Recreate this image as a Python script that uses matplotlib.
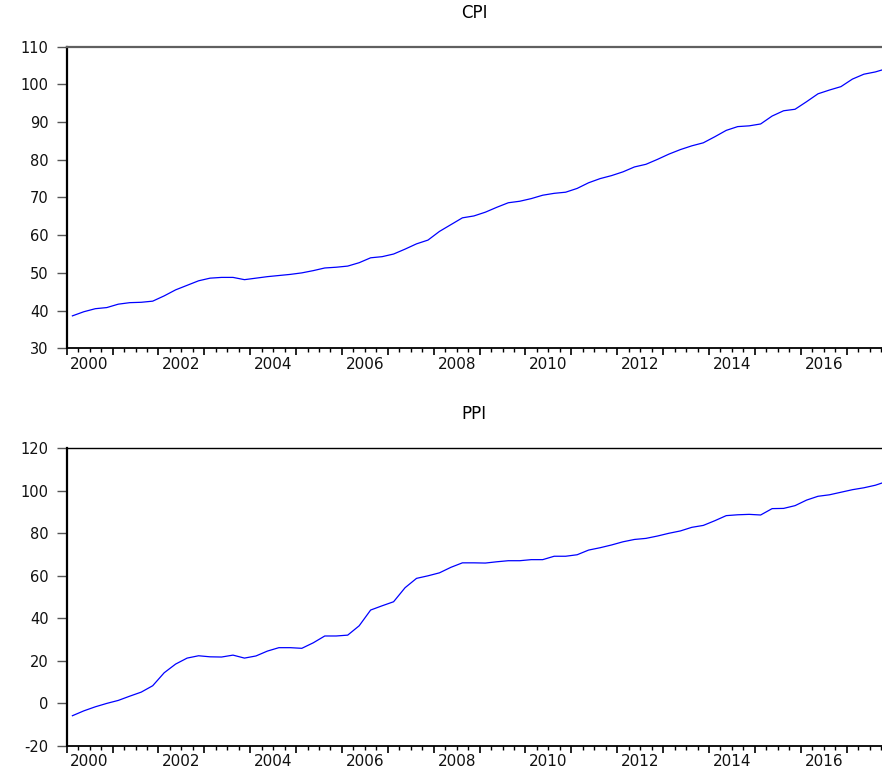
#!/usr/bin/env python3
"""
CPI / PPI quarterly index plot (EViews style), saved to out.png
"""

import numpy as np
import matplotlib
matplotlib.use("Agg")
import matplotlib.pyplot as plt
from matplotlib.ticker import MultipleLocator

plt.rcParams['font.family'] = ['DejaVu Sans']
plt.rcParams['axes.unicode_minus'] = False  # EViews prints a plain hyphen

# quarterly observations, 2000Q1 onwards
start_year = 2000
cpi = [38.6, 39.7, 40.5, 40.8, 41.7, 42.1, 42.2, 42.5, 43.9, 45.5,
       46.7, 47.9, 48.6, 48.8, 48.8, 48.2, 48.6, 49.0, 49.3, 49.6,
       50.0, 50.6, 51.3, 51.5, 51.8, 52.7, 54.0, 54.3, 55.0, 56.3,
       57.7, 58.7, 61.0, 62.8, 64.6, 65.1, 66.1, 67.4, 68.6, 69.0,
       69.7, 70.6, 71.1, 71.4, 72.4, 73.9, 75.0, 75.8, 76.8, 78.1,
       78.8, 80.1, 81.5, 82.7, 83.7, 84.5, 86.1, 87.8, 88.8, 89.0,
       89.5, 91.6, 93.0, 93.4, 95.4, 97.5, 98.5, 99.4, 101.4, 102.7,
       103.3, 104.2]
ppi = [-5.9, -3.6, -1.7, -0.1, 1.3, 3.3, 5.2, 8.2, 14.3, 18.4,
       21.2, 22.3, 21.8, 21.7, 22.6, 21.2, 22.2, 24.5, 26.1, 26.1,
       25.8, 28.4, 31.6, 31.6, 32.0, 36.4, 43.8, 45.8, 47.7, 54.3,
       58.7, 59.9, 61.3, 63.9, 66.0, 66.0, 65.9, 66.5, 67.0, 67.0,
       67.5, 67.5, 69.1, 69.1, 69.8, 72.0, 73.1, 74.4, 75.9, 77.0,
       77.5, 78.6, 79.9, 81.0, 82.7, 83.6, 85.8, 88.2, 88.6, 88.8,
       88.5, 91.5, 91.6, 92.9, 95.5, 97.3, 98.0, 99.2, 100.4, 101.3,
       102.5, 104.3]

year_labels = [2000, 2002, 2004, 2006, 2008, 2010, 2012, 2014, 2016]
cpi_yticks = [30, 40, 50, 60, 70, 80, 90, 100, 110]
ppi_yticks = [-20, 0, 20, 40, 60, 80, 100, 120]

# EViews puts each quarter in the middle of its period
t = start_year + (np.arange(len(cpi)) + 0.5) / 4.0
x_right = 2017.77  # picture is cut just before 2018


def style_panel(ax, title, yticks, top_color, top_lw):
    ax.set_xlim(start_year, x_right)
    ax.set_ylim(yticks[0], yticks[-1])
    ax.set_yticks(yticks)

    ax.spines['right'].set_visible(False)
    ax.spines['left'].set_linewidth(1.6)
    ax.spines['bottom'].set_linewidth(1.3)
    ax.spines['top'].set_color(top_color)
    ax.spines['top'].set_linewidth(top_lw)

    ax.tick_params(axis='y', direction='out', length=7, width=1.0,
                   color='#555555', labelsize=10.5, pad=6, labelcolor='#111111')
    ax.xaxis.set_major_locator(MultipleLocator(1))
    ax.xaxis.set_minor_locator(MultipleLocator(0.25))
    ax.tick_params(axis='x', which='major', direction='out', length=5,
                   width=1.2, labelbottom=False)
    ax.tick_params(axis='x', which='minor', direction='out', length=3,
                   width=1.0)

    # year labels sit in the middle of the year
    for yr in year_labels:
        ax.text(yr + 0.5, -0.028, str(yr), transform=ax.get_xaxis_transform(),
                ha='center', va='top', fontsize=11, color='#111111',
                clip_on=False)

    ax.annotate(title, xy=(0.5, 1), xycoords='axes fraction',
                xytext=(0, 24.5), textcoords='offset points',
                ha='center', va='center', fontsize=12)


fig = plt.figure(figsize=(8.82, 7.69), dpi=100)
ax1 = fig.add_axes([0.0756, 0.5471, 0.9244, 0.3922])
ax2 = fig.add_axes([0.0756, 0.0303, 0.9244, 0.3871])

ax1.plot(t, cpi, color='#0000ff', linewidth=0.9)
style_panel(ax1, 'CPI', cpi_yticks, '#606060', 1.6)

ax2.plot(t, ppi, color='#0000ff', linewidth=0.9)
style_panel(ax2, 'PPI', ppi_yticks, 'black', 1.0)

plt.savefig('out.png', dpi=100)
print("saved out.png")
